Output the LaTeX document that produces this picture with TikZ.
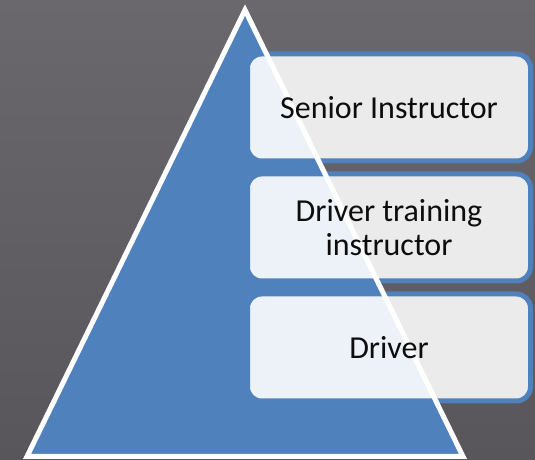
\documentclass[tikz,border=0pt]{standalone}
\usepackage{fontspec}
\setmainfont{Carlito}
\usetikzlibrary{positioning,backgrounds}
\definecolor{bggray}{RGB}{96,94,99}
\definecolor{bglight}{RGB}{106,104,109}
\definecolor{bgdark}{RGB}{88,86,91}
\definecolor{pyrblue}{RGB}{79,129,189}
\definecolor{boxgray}{RGB}{235,235,235}
\definecolor{boxtint}{RGB}{237,242,249}

\begin{document}
\begin{tikzpicture}[x=1pt,y=1pt,
    level/.style={minimum width=283pt, minimum height=107pt,
                  outer sep=0pt, inner sep=0pt, align=center,
                  font=\fontsize{32}{34}\selectfont, text=black!95},
    levelbox/.style={rounded corners=14pt}]
    \useasboundingbox (0,0) rectangle (535,460);
    % the three levels
    \node[level] (senior) at (389,352.5) {Senior Instructor};
    \node[level, below=13pt of senior] (trainer) {Driver training\\instructor};
    \node[level, below=13pt of trainer] (driver) {Driver};
    % pyramid
    \coordinate (apex) at (245,450);
    \coordinate (baseleft) at (27,3.5);
    \coordinate (baseright) at (463,3.5);

    \begin{scope}[on background layer]
        \shade[top color=bglight, bottom color=bgdark] (0,0) rectangle (535,460);
        \fill[pyrblue] (apex) -- (baseleft) -- (baseright) -- cycle;
        \foreach \lv in {senior,trainer,driver}
            \fill[boxgray, levelbox] (\lv.south west) rectangle (\lv.north east);
        \begin{scope}
            \clip (apex) -- (baseleft) -- (baseright) -- cycle;
            \foreach \lv in {senior,trainer,driver}
                \fill[boxtint, levelbox] (\lv.south west) rectangle (\lv.north east);
        \end{scope}
        \foreach \lv in {senior,trainer,driver}
            \draw[pyrblue, line width=5pt, levelbox] (\lv.south west) rectangle (\lv.north east);
        \draw[white, line width=5pt] (apex) -- (baseleft) -- (baseright) -- cycle;
    \end{scope}
\end{tikzpicture}
\end{document}
